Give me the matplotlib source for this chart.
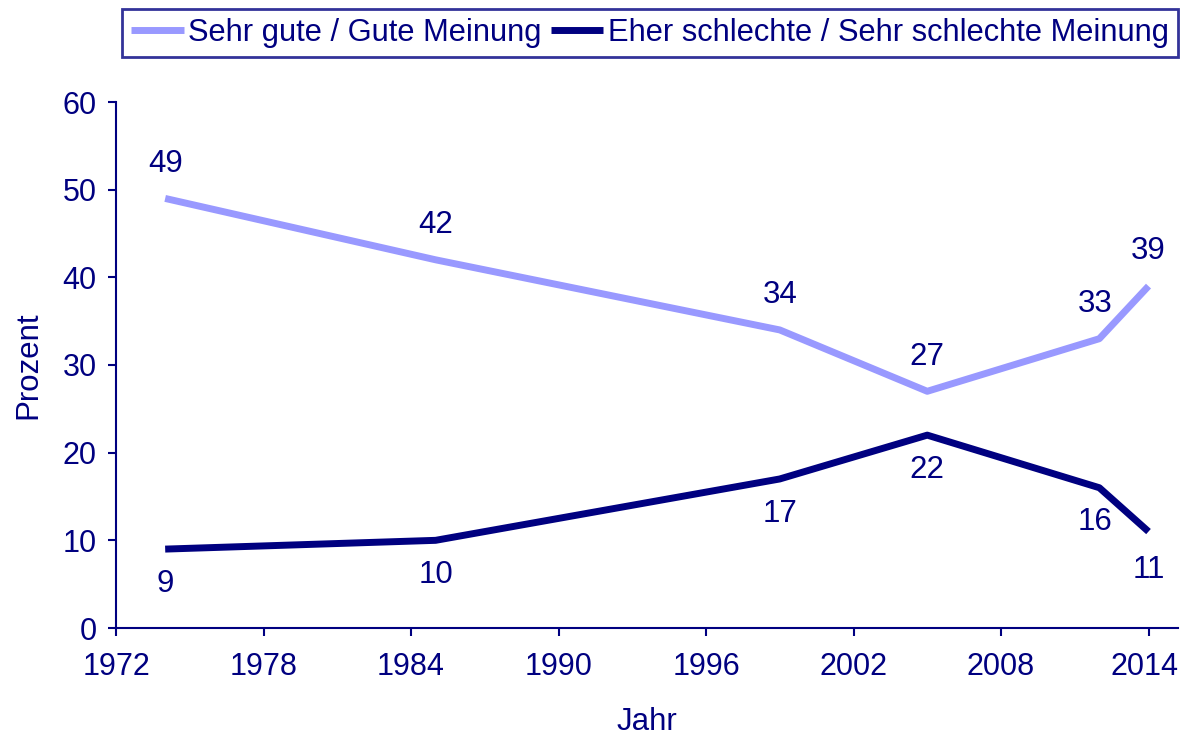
import matplotlib
matplotlib.use('Agg')
import matplotlib.pyplot as plt
import matplotlib.transforms as mtransforms

# data
jahre = [1974, 1985, 1999, 2005, 2012, 2014]
gute_meinung = [49, 42, 34, 27, 33, 39]
schlechte_meinung = [9, 10, 17, 22, 16, 11]
x_ticks = [1972, 1978, 1984, 1990, 1996, 2002, 2008, 2014]
y_ticks = [0, 10, 20, 30, 40, 50, 60]

navy = '#000080'
light = '#9999FF'

plt.rcParams['font.family'] = ['Liberation Sans', 'DejaVu Sans']
fs = 22.5

fig = plt.figure(figsize=(11.8, 7.39), dpi=100)
ax = fig.add_axes([116/1180, 1 - 628/739, (1178 - 116)/1180, (628 - 102)/739])

ax.plot(jahre, gute_meinung, color=light, linewidth=5, solid_capstyle='butt',
        label='Sehr gute / Gute Meinung')
ax.plot(jahre, schlechte_meinung, color=navy, linewidth=5, solid_capstyle='butt',
        label='Eher schlechte / Sehr schlechte Meinung')

# value labels
for i, (x, y) in enumerate(zip(jahre, gute_meinung)):
    dx = -3 if i == 4 else 0
    ax.annotate(str(y), (x, y), xytext=(dx, 25), textcoords='offset points',
                ha='center', va='center', color=navy, fontsize=fs)
for i, (x, y) in enumerate(zip(jahre, schlechte_meinung)):
    dx = -3 if i == 4 else 0
    dy = -28 if i == 5 else -25
    ax.annotate(str(y), (x, y), xytext=(dx, dy), textcoords='offset points',
                ha='center', va='center', color=navy, fontsize=fs)

ax.set_xlim(1972, 2015.2)
ax.set_ylim(0, 60)
ax.set_xticks(x_ticks)
ax.set_yticks(y_ticks)

for s in ['top', 'right']:
    ax.spines[s].set_visible(False)
for s in ['left', 'bottom']:
    ax.spines[s].set_color(navy)
    ax.spines[s].set_linewidth(1.5)
ax.tick_params(colors=navy, labelcolor=navy, length=6, width=1.5, direction='out',
               labelsize=22)
ax.tick_params(axis='x', pad=11)
ax.tick_params(axis='y', pad=8)

# keep the last year label inside the figure
last = ax.get_xticklabels()[-1]
last.set_transform(last.get_transform() +
                   mtransforms.ScaledTranslation(-4/100, 0, fig.dpi_scale_trans))

ax.set_xlabel('Jahr', color=navy, fontsize=fs, labelpad=18)
ax.set_ylabel('Prozent', color=navy, fontsize=fs, labelpad=14)

leg = fig.legend(loc='center', bbox_to_anchor=(650/1180, 1 - 33/739), ncol=2,
                 frameon=True, fancybox=False, handlelength=1.7, handletextpad=0.15,
                 columnspacing=0.3, borderpad=0.3, borderaxespad=0, fontsize=22.2)
leg.get_frame().set_edgecolor(navy)
leg.get_frame().set_linewidth(2)
for t in leg.get_texts():
    t.set_color(navy)

fig.savefig('out.png', dpi=100)
